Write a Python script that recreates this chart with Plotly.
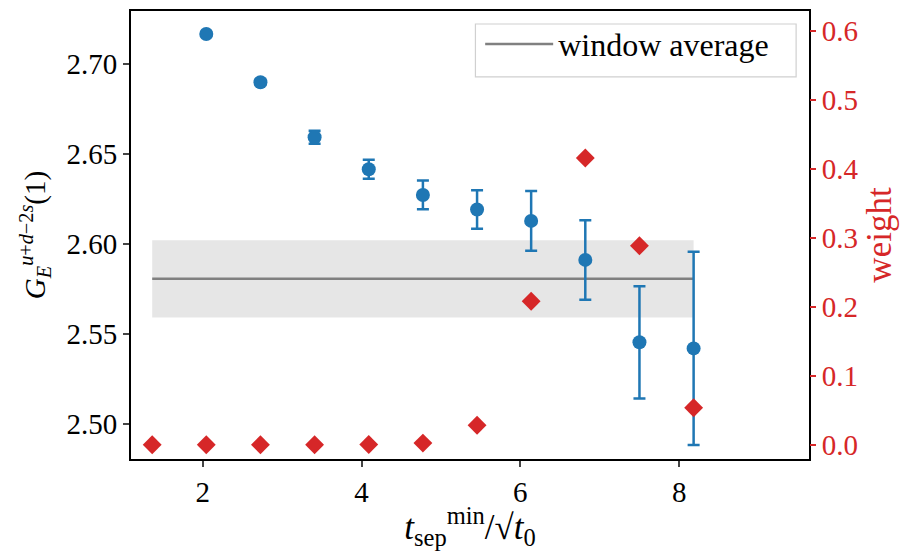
import plotly.graph_objects as go

# data
x_vals = [1.364, 2.045, 2.727, 3.409, 4.091, 4.773, 5.455, 6.136, 6.818, 7.500, 8.182]
g_x = [2.045, 2.727, 3.409, 4.091, 4.773, 5.455, 6.136, 6.818, 7.500, 8.182]
g_vals = [2.7168, 2.6900, 2.6594, 2.6416, 2.6273, 2.6192, 2.6129, 2.5912, 2.5454, 2.5420]
g_errs = [0.0010, 0.0015, 0.0036, 0.0053, 0.0080, 0.0107, 0.0166, 0.0221, 0.0312, 0.0537]
weights = [0.0, 0.0, 0.0, 0.0, 0.0005, 0.0025, 0.0284, 0.2083, 0.4160, 0.2887, 0.0538]
avg_mean = 2.5807
avg_err = 0.0215
avg_x = [1.364, 8.182]

BLUE = "#1f77b4"
RED = "#d62728"
FONT = "Liberation Serif"
FS = 29

fig = go.Figure()

# window average band
band_x = [avg_x[0], avg_x[1], avg_x[1], avg_x[0], avg_x[0]]
band_y = [avg_mean + avg_err, avg_mean + avg_err, avg_mean - avg_err, avg_mean - avg_err, avg_mean + avg_err]
fig.add_trace(go.Scatter(x=band_x, y=band_y, fill="toself", fillcolor="rgba(128,128,128,0.2)",
                         line=dict(width=0), mode="lines", showlegend=False, hoverinfo="skip"))
fig.add_trace(go.Scatter(x=avg_x, y=[avg_mean, avg_mean], mode="lines",
                         line=dict(color="gray", width=2.5), name="window average"))

fig.add_trace(go.Scatter(x=g_x, y=g_vals, mode="markers",
                         marker=dict(color=BLUE, size=14),
                         error_y=dict(type="data", array=g_errs, color=BLUE, thickness=2.5, width=6),
                         showlegend=False))

fig.add_trace(go.Scatter(x=x_vals, y=weights, mode="markers", yaxis="y2",
                         marker=dict(color=RED, size=14.5, symbol="diamond"),
                         showlegend=False))

# legend frame
fig.add_shape(type="rect", xref="paper", yref="paper", x0=0.508, x1=0.981, y0=0.853, y1=0.971,
              line=dict(color="#d0d0d0", width=1.2), fillcolor="rgba(255,255,255,0.8)", layer="above")

fig.update_layout(
    width=900, height=551,
    margin=dict(l=131, r=90, t=9, b=92),
    plot_bgcolor="white", paper_bgcolor="white",
    font=dict(family=FONT, size=FS, color="black"),
    xaxis=dict(range=[1.097, 9.635], tickvals=[2, 4, 6, 8], ticks="outside", ticklen=6, tickwidth=1.5,
               showline=True, linecolor="black", linewidth=2, mirror=True, showgrid=False, zeroline=False,
               title=dict(text="<i>t</i><sub>sep</sub><sup>min</sup>/√<i>t</i><sub>0</sub>", standoff=10)),
    yaxis=dict(range=[2.4805, 2.7296], tickvals=[2.50, 2.55, 2.60, 2.65, 2.70], tickformat=".2f",
               ticks="outside", ticklen=6, tickwidth=1.5,
               showline=True, linecolor="black", linewidth=2, mirror=True, showgrid=False, zeroline=False,
               title=dict(text="<i>G</i><sub><i>E</i></sub><sup><i>u</i>+<i>d</i>−2<i>s</i></sup>(1)",
                          standoff=12, font=dict(size=29))),
    yaxis2=dict(range=[-0.0206, 0.6293], overlaying="y", side="right", tickvals=[0, 0.1, 0.2, 0.3, 0.4, 0.5, 0.6],
                tickformat=".1f", ticks="outside", ticklen=6, tickwidth=1.5, tickcolor=RED,
                tickfont=dict(color=RED), showline=False, showgrid=False, zeroline=False,
                title=dict(text="weight", font=dict(color=RED), standoff=8)),
    legend=dict(x=0.515, y=0.926, xanchor="left", yanchor="middle", bgcolor="rgba(0,0,0,0)",
                borderwidth=0, font=dict(size=32), itemwidth=68),
)

fig.write_html("out.html")
